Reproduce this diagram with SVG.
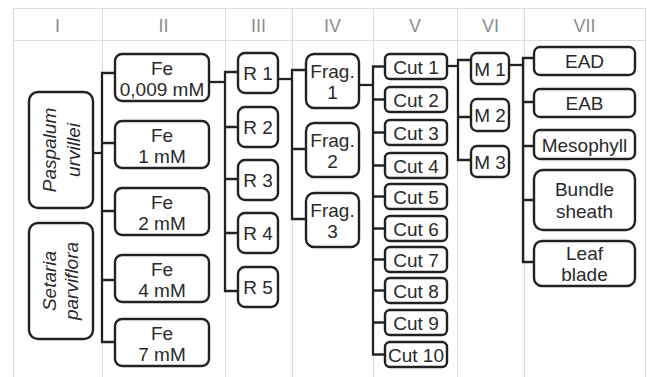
<svg xmlns="http://www.w3.org/2000/svg" width="647" height="377" viewBox="0 0 647 377">
<style>
.grid{stroke:#dcdcdc;stroke-width:1;fill:none}
.hdr{font-family:"Liberation Sans",Arial,sans-serif;font-size:18px;fill:#8c8c8c;text-anchor:middle}
.box{fill:#fff;stroke:#222;stroke-width:2.4}
.t{font-family:"Liberation Sans",Arial,sans-serif;font-size:19px;fill:#2a2a2a;text-anchor:middle}
.it{font-style:italic}
.con{fill:none;stroke:#222;stroke-width:2.3}
</style>
<rect width="647" height="377" fill="#fff"/>
<g id="grid">
<path class="grid" d="M13,8.5H645M13,40.5H645M13.5,8V377M102.5,8V377M225.5,8V377M292.5,8V377M373.5,8V377M457.5,8V377M524.5,8V377M645.5,8V377"/>
<text class="hdr" x="57.5" y="32">I</text>
<text class="hdr" x="163.5" y="32">II</text>
<text class="hdr" x="258.5" y="32">III</text>
<text class="hdr" x="332.5" y="32">IV</text>
<text class="hdr" x="415" y="32">V</text>
<text class="hdr" x="490.5" y="32">VI</text>
<text class="hdr" x="584.5" y="32">VII</text>
</g>
<g id="connectors">
<path class="con" d="M93,153H102"/>
<path class="con" d="M115,73H102V342H115M102,143H115M102,211H115M102,280H115"/>
<path class="con" d="M209,82H225"/>
<path class="con" d="M238,72H225V291H238M225,127H238M225,179H238M225,233H238"/>
<path class="con" d="M278,79H292"/>
<path class="con" d="M306,70H292V219H306M292,149H306"/>
<path class="con" d="M359,85H373"/>
<path class="con" d="M385,66.5H373V354.5H385M373,99.5H385M373,132.5H385M373,165.5H385M373,196.5H385M373,228.5H385M373,259.5H385M373,290.5H385M373,322.5H385"/>
<path class="con" d="M447,66H458"/>
<path class="con" d="M471,60H458V160H471M458,117H471"/>
<path class="con" d="M509,65H523"/>
<path class="con" d="M534,58H523V262H534M523,102H534M523,146H534M523,200H534"/>
</g>
<g id="n-paspalum">
<rect class="box" x="29" y="92" width="64" height="116" rx="9"/>
<text class="t it" transform="translate(56,150) rotate(-90)">Paspalum</text>
<text class="t it" transform="translate(80,150) rotate(-90)">urvillei</text>
</g>
<g id="n-setaria">
<rect class="box" x="29" y="223" width="64" height="116" rx="9"/>
<text class="t it" transform="translate(56,281) rotate(-90)">Setaria</text>
<text class="t it" transform="translate(78,281) rotate(-90)">parviflora</text>
</g>
<g id="n-fe1"><rect class="box" x="115" y="54" width="94" height="47" rx="7"/><text class="t" x="162" y="74.5">Fe</text><text class="t" x="162" y="95.5">0,009 mM</text></g>
<g id="n-fe2"><rect class="box" x="115" y="121" width="94" height="47" rx="7"/><text class="t" x="162" y="141.5">Fe</text><text class="t" x="162" y="162.5">1 mM</text></g>
<g id="n-fe3"><rect class="box" x="115" y="188" width="94" height="47" rx="7"/><text class="t" x="162" y="208.5">Fe</text><text class="t" x="162" y="229.5">2 mM</text></g>
<g id="n-fe4"><rect class="box" x="115" y="255" width="94" height="47" rx="7"/><text class="t" x="162" y="275.5">Fe</text><text class="t" x="162" y="296.5">4 mM</text></g>
<g id="n-fe5"><rect class="box" x="115" y="319" width="94" height="47" rx="7"/><text class="t" x="162" y="339.5">Fe</text><text class="t" x="162" y="360.5">7 mM</text></g>
<g id="n-r1"><rect class="box" x="238" y="53" width="40" height="40" rx="7"/><text class="t" x="258" y="80">R 1</text></g>
<g id="n-r2"><rect class="box" x="238" y="107" width="40" height="40" rx="7"/><text class="t" x="258" y="134">R 2</text></g>
<g id="n-r3"><rect class="box" x="238" y="160" width="40" height="40" rx="7"/><text class="t" x="258" y="187">R 3</text></g>
<g id="n-r4"><rect class="box" x="238" y="213" width="40" height="40" rx="7"/><text class="t" x="258" y="240">R 4</text></g>
<g id="n-r5"><rect class="box" x="238" y="267" width="40" height="40" rx="7"/><text class="t" x="258" y="294">R 5</text></g>
<g id="n-frag1"><rect class="box" x="306" y="54" width="53" height="54" rx="8"/><text class="t" x="332.5" y="78">Frag.</text><text class="t" x="332.5" y="99">1</text></g>
<g id="n-frag2"><rect class="box" x="306" y="123" width="53" height="54" rx="8"/><text class="t" x="332.5" y="147">Frag.</text><text class="t" x="332.5" y="168">2</text></g>
<g id="n-frag3"><rect class="box" x="306" y="193" width="53" height="54" rx="8"/><text class="t" x="332.5" y="217">Frag.</text><text class="t" x="332.5" y="238">3</text></g>
<g id="n-cut1"><rect class="box" x="385" y="54" width="62" height="25" rx="5"/><text class="t" x="416" y="73.5">Cut 1</text></g>
<g id="n-cut2"><rect class="box" x="385" y="87" width="62" height="25" rx="5"/><text class="t" x="416" y="106.5">Cut 2</text></g>
<g id="n-cut3"><rect class="box" x="385" y="120" width="62" height="25" rx="5"/><text class="t" x="416" y="139.5">Cut 3</text></g>
<g id="n-cut4"><rect class="box" x="385" y="153" width="62" height="25" rx="5"/><text class="t" x="416" y="172.5">Cut 4</text></g>
<g id="n-cut5"><rect class="box" x="385" y="184" width="62" height="25" rx="5"/><text class="t" x="416" y="203.5">Cut 5</text></g>
<g id="n-cut6"><rect class="box" x="385" y="216" width="62" height="25" rx="5"/><text class="t" x="416" y="235.5">Cut 6</text></g>
<g id="n-cut7"><rect class="box" x="385" y="247" width="62" height="25" rx="5"/><text class="t" x="416" y="266.5">Cut 7</text></g>
<g id="n-cut8"><rect class="box" x="385" y="278" width="62" height="25" rx="5"/><text class="t" x="416" y="297.5">Cut 8</text></g>
<g id="n-cut9"><rect class="box" x="385" y="310" width="62" height="25" rx="5"/><text class="t" x="416" y="329.5">Cut 9</text></g>
<g id="n-cut10"><rect class="box" x="385" y="342" width="62" height="25" rx="5"/><text class="t" x="416" y="361.5">Cut 10</text></g>
<g id="n-m1"><rect class="box" x="471" y="53" width="38" height="31" rx="6"/><text class="t" x="490" y="75.5">M 1</text></g>
<g id="n-m2"><rect class="box" x="471" y="99" width="38" height="32" rx="6"/><text class="t" x="490" y="122">M 2</text></g>
<g id="n-m3"><rect class="box" x="471" y="146" width="38" height="31" rx="6"/><text class="t" x="490" y="168.5">M 3</text></g>
<g id="n-ead"><rect class="box" x="534" y="47" width="101" height="28" rx="6"/><text class="t" x="584.5" y="68">EAD</text></g>
<g id="n-eab"><rect class="box" x="534" y="89" width="101" height="28" rx="6"/><text class="t" x="584.5" y="110">EAB</text></g>
<g id="n-meso"><rect class="box" x="534" y="130" width="101" height="29" rx="6"/><text class="t" x="584.5" y="151.5">Mesophyll</text></g>
<g id="n-bundle"><rect class="box" x="534" y="170" width="101" height="60" rx="9"/><text class="t" x="584.5" y="196">Bundle</text><text class="t" x="584.5" y="218">sheath</text></g>
<g id="n-leaf"><rect class="box" x="534" y="241" width="101" height="45" rx="8"/><text class="t" x="584.5" y="260">Leaf</text><text class="t" x="584.5" y="281">blade</text></g>
</svg>
